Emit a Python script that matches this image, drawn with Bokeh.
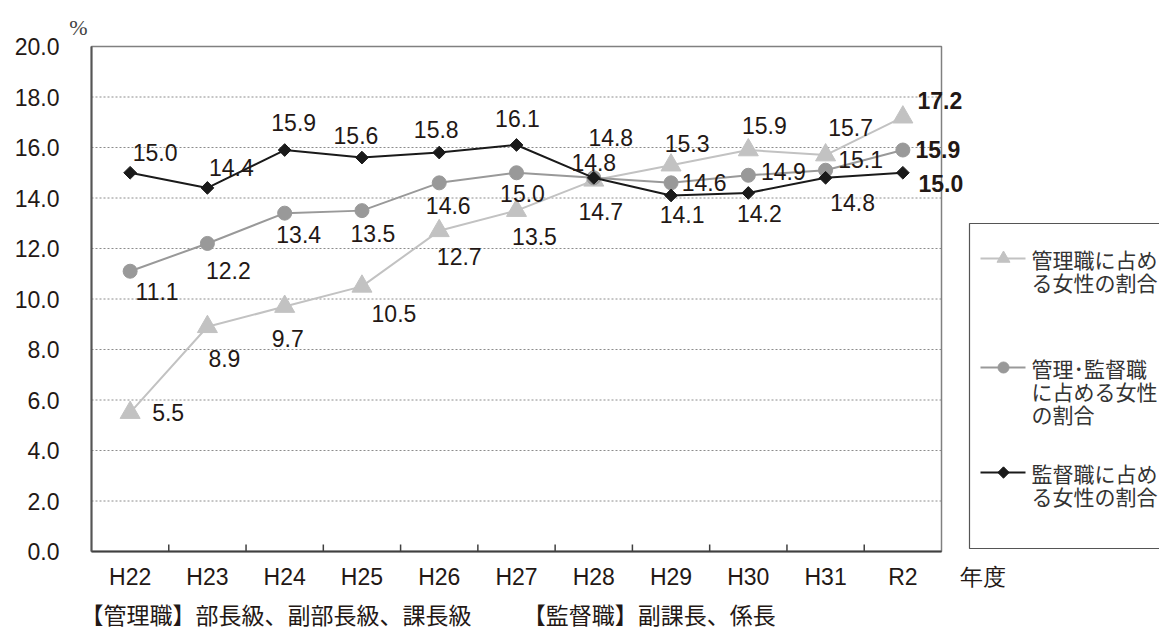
import math
from bokeh.plotting import figure
from bokeh.models import Range1d, FixedTicker, Title
from bokeh.core.properties import value
from bokeh.embed import file_html
from bokeh.resources import INLINE

# ---------------- data ----------------
years = ["H22", "H23", "H24", "H25", "H26", "H27", "H28", "H29", "H30", "H31", "R2"]
kanri = [5.5, 8.9, 9.7, 10.5, 12.7, 13.5, 14.7, 15.3, 15.9, 15.7, 17.2]            # 管理職
kanri_kantoku = [11.1, 12.2, 13.4, 13.5, 14.6, 15.0, 14.8, 14.6, 14.9, 15.1, 15.9]  # 管理・監督職
kantoku = [15.0, 14.4, 15.9, 15.6, 15.8, 16.1, 14.8, 14.1, 14.2, 14.8, 15.0]        # 監督職
y_ticks = [0, 2, 4, 6, 8, 10, 12, 14, 16, 18, 20]
legend_texts = [["管理職に占め", "る女性の割合"],
                ["管理･監督職", "に占める女性", "の割合"],
                ["監督職に占め", "る女性の割合"]]
unit_label = "%"
x_title = "年度"
note = "【管理職】部長級、副部長級、課長級　　  【監督職】副課長、係長"

# ---------------- layout / style ----------------
W, H = 1159, 636
FRAME_L = 66          # frame left edge (px)
PLOT_L = 91           # plot-area left edge (px)
PLOT_R = 941
PLOT_B = 551
FRAME_B = 553
U = (PLOT_R - PLOT_L) / len(years)           # px per category
PX_Y = 25.25                                   # px per unit on y
X_START = -0.5 - (PLOT_L - FRAME_L) / U
X_END = X_START + (W - FRAME_L) / U
Y_START = -(FRAME_B - PLOT_B) / PX_Y
Y_END = Y_START + FRAME_B / PX_Y


def xd(px):
    return (px - PLOT_L) / U - 0.5


def yd(py):
    return (PLOT_B - py) / PX_Y


TXT = "#231815"
C_TRI = "#c2c2c2"
C_CIR = "#999999"
C_DIA = "#1a1a1a"
NUM = "Liberation Sans"
JP = "Noto Sans CJK JP"
LBL = "23px"

off_kanri = [(38, 0), (17, 32), (3, 32), (32, 27), (20, 26), (18, 26), (7, 31), (16, -22), (16, -25), (25, -28), (37, -17)]
off_kk = [(27, 20), (21, 27), (14, 21), (11, 23), (9, 23), (6, 21), (17, -40), (33, 0), (35, -4), (35, -11), (35, -1)]
off_kantoku = [(25, -20), (24, -20), (9, -28), (-6, -22), (-3, -23), (1, -26), (0, -15), (11, 19), (11, 21), (27, 25), (38, 11)]

p = figure(width=W, height=H, output_backend="svg", toolbar_location=None,
           x_range=Range1d(X_START, X_END), y_range=Range1d(Y_START, Y_END),
           min_border_left=FRAME_L, min_border_right=0,
           min_border_top=0, min_border_bottom=H - FRAME_B)
p.outline_line_color = None
p.xgrid.visible = False
p.ygrid.visible = False
p.background_fill_color = "white"
p.border_fill_color = "white"

# y axis (labels only)
ya = p.yaxis[0]
ya.ticker = FixedTicker(ticks=y_ticks)
ya.major_label_overrides = {t: f"{t:.1f}" for t in y_ticks}
ya.major_tick_in = 0
ya.major_tick_out = 0
ya.minor_tick_line_color = None
ya.axis_line_color = None
ya.major_label_standoff = 7
ya.major_label_text_font = NUM
ya.major_label_text_font_size = "23px"
ya.major_label_text_color = TXT

# x axis (labels only)
xs = list(range(len(years)))
xa = p.xaxis[0]
x_nendo = xd(982)
xa.ticker = FixedTicker(ticks=xs + [x_nendo])
ov = {i: years[i] for i in xs}
ov[x_nendo] = x_title
xa.major_label_overrides = ov
xa.major_tick_in = 0
xa.major_tick_out = 0
xa.minor_tick_line_color = None
xa.axis_line_color = None
xa.major_label_standoff = 10
xa.major_label_text_font = NUM
xa.major_label_text_font_size = "23px"
xa.major_label_text_color = TXT

# gridlines and plot-area border
x0, x1 = -0.5, len(years) - 0.5
grid_y = y_ticks[1:-1]
p.segment(x0=[x0] * len(grid_y), x1=[x1] * len(grid_y), y0=grid_y, y1=grid_y,
          line_color="#8c8c8c", line_width=1, line_dash="2 2")
p.quad(left=[x0], right=[x1], bottom=[0], top=[y_ticks[-1]],
       fill_color=None, line_color="#808080", line_width=1.5)
p.segment(x0=[x0], x1=[x1], y0=[0], y1=[0], line_color="#404040", line_width=2)
p.segment(x0=[x0], x1=[x0], y0=[0], y1=[y_ticks[-1]], line_color="#555555", line_width=2)
bx = [i + 0.5 for i in range(len(years) - 1)]
p.segment(x0=bx, x1=bx, y0=[0] * len(bx), y1=[7 / PX_Y] * len(bx), line_color="#404040", line_width=1.5)

# series
p.line(xs, kanri, line_color=C_TRI, line_width=2)
p.scatter(xs, kanri, marker="triangle", size=20, fill_color=C_TRI, line_color=C_TRI)
p.line(xs, kanri_kantoku, line_color=C_CIR, line_width=2)
p.scatter(xs, kanri_kantoku, marker="circle", size=14, fill_color=C_CIR, line_color=C_CIR)
p.line(xs, kantoku, line_color=C_DIA, line_width=2)
p.scatter(xs, kantoku, marker="square", size=9, angle=math.pi / 4, fill_color=C_DIA, line_color=C_DIA)

# data labels
for vals, offs in [(kanri, off_kanri), (kanri_kantoku, off_kk), (kantoku, off_kantoku)]:
    n = len(vals) - 1
    p.text(xs[:n], vals[:n], text=[f"{v:.1f}" for v in vals[:n]],
           x_offset=[o[0] for o in offs[:n]], y_offset=[o[1] for o in offs[:n]],
           text_align="center", text_baseline="middle", text_font=value(NUM),
           text_font_size=LBL, text_color=TXT)
    p.text(xs[n:], vals[n:], text=[f"{v:.1f}" for v in vals[n:]],
           x_offset=[o[0] for o in offs[n:]], y_offset=[o[1] for o in offs[n:]],
           text_align="center", text_baseline="middle", text_font=value(NUM),
           text_font_size=LBL, text_font_style="bold", text_color=TXT)

# unit label
p.text([xd(78)], [yd(27)], text=[unit_label], text_align="center", text_baseline="middle",
       text_font=value("Liberation Serif"), text_font_size="22px", text_color="#444444")

# legend (drawn by hand)
p.quad(left=[xd(969)], right=[xd(1175)], top=[yd(223)], bottom=[yd(548)],
       fill_color="white", line_color="#555555", line_width=1.2)
leg_rows = [258, 367, 472]
leg_styles = [("triangle", C_TRI, 13, 0), ("circle", C_CIR, 11, 0), ("square", C_DIA, 8, math.pi / 4)]
for row, (mk, col, sz, ang), lines in zip(leg_rows, leg_styles, legend_texts):
    p.line([xd(980), xd(1025)], [yd(row), yd(row)], line_color=col, line_width=2)
    p.scatter([xd(1003)], [yd(row)], marker=mk, size=sz, angle=ang, fill_color=col, line_color=col)
    p.text([xd(1031)] * len(lines), [yd(row + 23 * k) for k in range(len(lines))], text=lines,
           text_align="left", text_baseline="middle", text_font=value(JP),
           text_font_size="21px", text_color="#333333")

# note below
p.add_layout(Title(text=note, align="left", text_font=JP, offset=14,
                   text_font_size="23px", text_font_style="normal", text_color=TXT,
                   standoff=4), "below")

open("out.html", "w").write(file_html(p, INLINE))
